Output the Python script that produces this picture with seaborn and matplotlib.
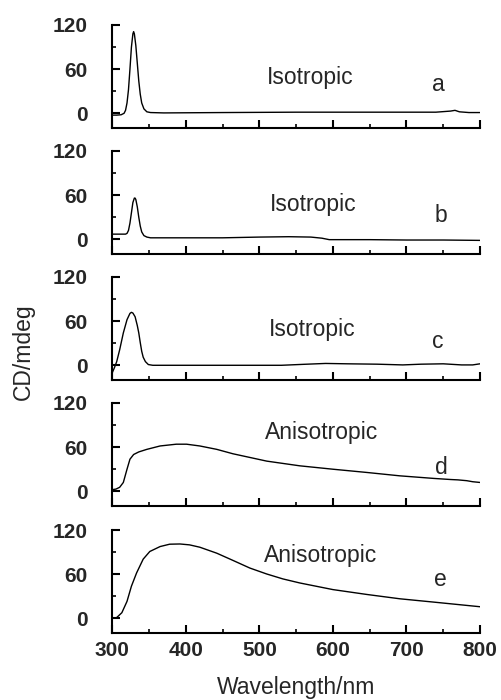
import matplotlib
matplotlib.use("Agg")

import matplotlib.pyplot as plt
from matplotlib.ticker import MultipleLocator
import seaborn as sns
import pandas as pd

# spectra (wavelength in nm, CD in mdeg)
wl_a = [300, 306, 312, 316, 318, 320, 322, 324, 326, 328, 329, 330, 332, 334, 336, 338,
        340, 343, 347, 352, 370, 450, 550, 650, 740, 760, 766, 772, 785, 800]
cd_a = [-2.5, -2.5, -2, 0, 4, 14, 32, 60, 90, 108, 111, 108, 92, 68, 44, 26,
        14, 6, 2, 1, 0.5, 1, 1.5, 1.5, 1.5, 3, 4, 2, 1, 1]

wl_b = [300, 310, 318, 320, 322, 324, 326, 328, 330, 331, 332, 334, 336, 338, 340, 343,
        347, 352, 400, 450, 500, 540, 570, 585, 595, 650, 700, 750, 800]
cd_b = [7, 7, 7, 8, 12, 22, 36, 50, 56, 56, 54, 44, 30, 18, 10, 5,
        3, 2, 2, 2, 3, 3.5, 3, 1.5, -0.5, -0.5, -1, -1, -1.5]

wl_c = [300, 303, 306, 310, 315, 320, 324, 326, 328, 331, 334, 336, 338, 340, 342, 345,
        349, 355, 400, 450, 530, 560, 590, 620, 660, 695, 720, 750, 775, 790, 800]
cd_c = [-10, -3, 5, 21, 44, 62, 70.5, 72, 71, 66, 54, 44, 31, 19, 11, 5,
        1, 0, 0, 0, 0, 1.3, 2.5, 2, 1.5, 0.5, 1.5, 2, 0.5, 0.5, 2]

wl_d = [300, 305, 310, 315, 320, 324, 329, 336, 347, 365, 387, 401, 419, 442, 464, 487,
        510, 555, 600, 646, 691, 737, 760, 770, 782, 790, 800]
cd_d = [2.2, 3, 5.4, 12, 30, 43.6, 50, 53.5, 57, 61.6, 64, 64, 61.6, 57, 51, 46,
        41, 34.6, 30, 25.6, 21, 17.5, 16, 15.5, 14.4, 13, 12]

wl_e = [300, 306, 313, 320, 326, 333, 342, 351, 365, 378, 392, 405, 419, 442, 464, 487,
        510, 532, 555, 600, 646, 691, 737, 800]
cd_e = [0, 1, 7.6, 23, 43.6, 61.6, 80.4, 90.8, 97.5, 100.7, 101, 99.8, 96.6, 88.5, 78.7, 68.3,
        60.2, 53.5, 48, 39, 32.4, 26.5, 22, 15.7]

phase = ["Isotropic", "Isotropic", "Isotropic", "Anisotropic", "Anisotropic"]
letters = ["a", "b", "c", "d", "e"]
# label positions (data coords) for the phase text and the panel letter
phase_pos = [(569, 40), (573, 39), (572, 39.5), (585, 71), (583, 76)]
letter_pos = [(743, 30), (747, 23), (743, 23.5), (747, 23.5), (746, 44)]

series = [(wl_a, cd_a), (wl_b, cd_b), (wl_c, cd_c), (wl_d, cd_d), (wl_e, cd_e)]

sns.set_style("ticks")
plt.rcParams["font.family"] = ["Liberation Sans", "DejaVu Sans"]

W, H = 501, 700
fig = plt.figure(figsize=(W / 100, H / 100), dpi=100)

left_px, right_px = 112.3, 480
tops_px = [25, 151, 277, 403, 530]
h_px = 103

for i, (wl, cd) in enumerate(series):
    ax = fig.add_axes([left_px / W, 1 - (tops_px[i] + h_px) / H,
                       (right_px - left_px) / W, h_px / H])
    df = pd.DataFrame({"wl": wl, "cd": cd})
    sns.lineplot(data=df, x="wl", y="cd", ax=ax, color="black", linewidth=1.0)

    ax.set_xlim(300, 800)
    ax.set_ylim(-20, 120)
    ax.xaxis.set_major_locator(MultipleLocator(100))
    ax.xaxis.set_minor_locator(MultipleLocator(50))
    ax.yaxis.set_major_locator(MultipleLocator(60))
    ax.yaxis.set_minor_locator(MultipleLocator(30))

    for s in ["top", "right"]:
        ax.spines[s].set_visible(False)
    for s in ["left", "bottom"]:
        ax.spines[s].set_linewidth(1.5)
        ax.spines[s].set_color("black")

    ax.tick_params(which="major", direction="in", length=5.5, width=1.5, color="black")
    ax.tick_params(which="minor", direction="in", length=3, width=1.2, color="black")
    ax.tick_params(axis="y", which="major", pad=18, labelsize=15)
    ax.tick_params(axis="x", which="major", pad=6, labelsize=15)
    for lab in ax.get_yticklabels() + ax.get_xticklabels():
        lab.set_fontweight("bold")

    if i < 4:
        ax.set_xticklabels([])
    ax.set_xlabel("")
    ax.set_ylabel("")

    ax.text(phase_pos[i][0], phase_pos[i][1], phase[i], ha="center", va="baseline",
            fontsize=16.5)
    ax.text(letter_pos[i][0], letter_pos[i][1], letters[i], ha="center", va="baseline",
            fontsize=16.5)

fig.text(23 / W, 1 - 352 / H, "CD/mdeg", rotation=90, ha="center", va="center",
         fontsize=16.5)
fig.text(296.5 / W, 1 - 694 / H, "Wavelength/nm", ha="center", va="baseline",
         fontsize=16.5)

fig.savefig("out.png", dpi=100)
plt.close(fig)
